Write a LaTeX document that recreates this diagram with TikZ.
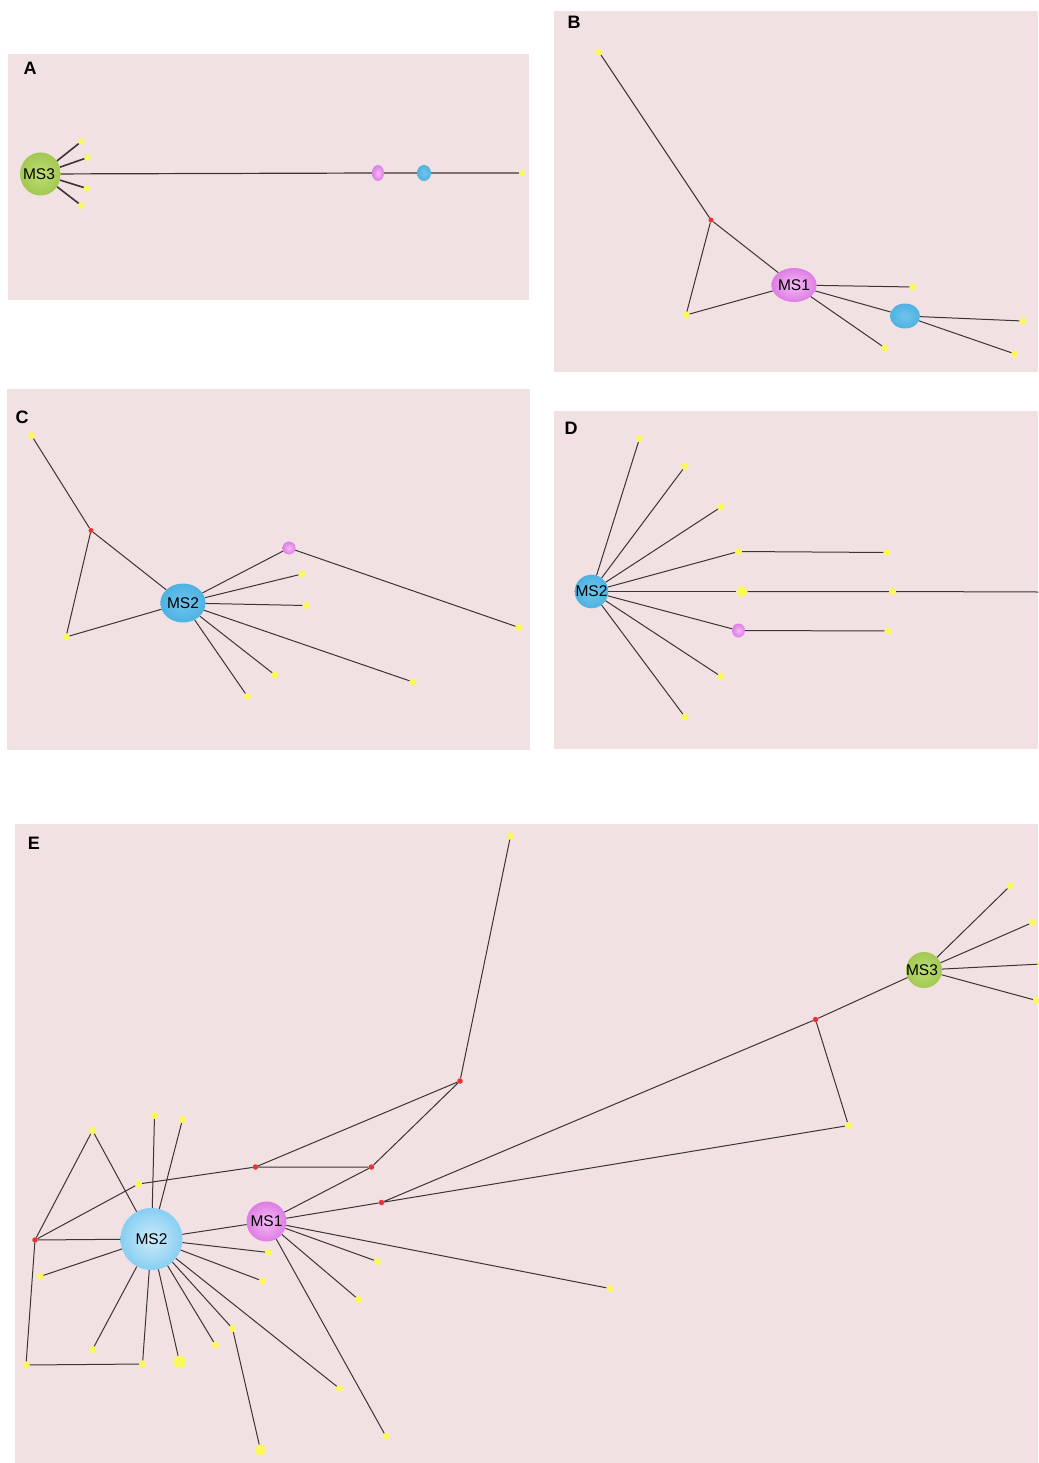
\documentclass[tikz,border=0pt]{standalone}
\usepackage{fontspec}
\setmainfont{Liberation Sans}
\usetikzlibrary{shapes.geometric}
\definecolor{panelbg}{RGB}{242,225,226}
\definecolor{leafyellow}{RGB}{250,248,90}
\definecolor{hubred}{RGB}{238,48,48}
\definecolor{linkgray}{RGB}{58,52,52}
\definecolor{msgreen}{RGB}{162,200,82}
\definecolor{msgreenlt}{RGB}{190,222,115}
\definecolor{mspink}{RGB}{222,125,228}
\definecolor{mspinklt}{RGB}{245,185,245}
\definecolor{msblue}{RGB}{78,178,226}
\definecolor{msbluelt}{RGB}{112,196,236}
\definecolor{msbluepale}{RGB}{205,234,250}
\definecolor{msbluee}{RGB}{135,207,242}
\begin{document}
\begin{tikzpicture}[x=1pt,y=-1pt,
  leaf/.style={circle,fill=leafyellow,inner sep=0pt,minimum size=7pt},
  bigleaf/.style={leaf,minimum size=11pt},
  hub/.style={circle,fill=hubred,inner sep=0pt,minimum size=5pt},
  ms/.style={ellipse,inner sep=0pt,font=\fontsize{15.5}{15.5}\selectfont},
  green/.style={ms,shading=radial,inner color=msgreenlt,outer color=msgreen},
  pink/.style={ms,shading=radial,inner color=mspinklt,outer color=mspink},
  blue/.style={ms,shading=radial,inner color=msbluelt,outer color=msblue},
  link/.style={draw=linkgray,line width=1pt},
  tag/.style={font=\bfseries\fontsize{18}{18}\selectfont}]

\useasboundingbox (0,0) rectangle (1038,1463);
\fill[white] (0,0) rectangle (1038,1463);
\fill[panelbg] (8,54) rectangle (529,300);
\fill[panelbg] (554,11) rectangle (1038,372);
\fill[panelbg] (7,389) rectangle (530,750);
\fill[panelbg] (554,411) rectangle (1038,749);
\fill[panelbg] (15,824) rectangle (1038,1463);

% A
\node[tag] at (30,68) {A};
\node[green,minimum width=34,minimum height=43] (a0) at (40.5,174) {\hspace*{-3pt}MS3};
\node[leaf,minimum size=6.5pt] (a1) at (81.4,141.5) {};
\node[leaf,minimum size=6.5pt] (a2) at (87.6,157.5) {};
\node[leaf,minimum size=6.5pt] (a3) at (87,188.5) {};
\node[leaf,minimum size=6.5pt] (a4) at (81.4,205.5) {};
\node[pink,minimum width=12,minimum height=16] (a5) at (378,173) {};
\node[blue,minimum width=14,minimum height=16] (a6) at (424,173) {};
\node[leaf,minimum size=6pt] (a7) at (522,173) {};
\foreach \n in {a1,a2,a3,a4}
  \draw[link,line width=1.6pt] (a0) -- (\n);
\draw[link,line width=1.2pt] (a0) -- (a5) -- (a6) -- (a7);

% B
\node[tag] at (574,22) {B};
\node[pink,minimum width=41,minimum height=34] (b0) at (794,285) {MS1};
\node[leaf] (b1) at (599,52) {};
\node[hub] (b2) at (711,220) {};
\node[leaf] (b3) at (686,315) {};
\node[leaf] (b4) at (913,287) {};
\node[blue,minimum width=30,minimum height=25] (b5) at (905,316) {};
\node[leaf] (b6) at (885,348) {};
\node[leaf] (b7) at (1023,321) {};
\node[leaf] (b8) at (1015,354) {};
\draw[link] (b1) -- (b2) -- (b3) -- (b0) -- (b2);
\foreach \n in {b4,b5,b6}
  \draw[link] (b0) -- (\n);
\draw[link] (b7) -- (b5) -- (b8);

% C
\node[tag] at (22,417) {C};
\node[blue,minimum width=45,minimum height=39] (c0) at (183,603) {MS2};
\node[leaf] (c1) at (31.5,435.5) {};
\node[hub] (c2) at (91,530.5) {};
\node[leaf] (c3) at (66,637) {};
\node[pink,minimum size=13] (c4) at (289,548) {};
\node[leaf] (c5) at (519,627.5) {};
\node[leaf] (c6) at (302,574) {};
\node[leaf] (c7) at (306,605.5) {};
\node[leaf] (c8) at (413,682) {};
\node[leaf] (c9) at (275,675) {};
\node[leaf] (c10) at (247.5,696.5) {};
\draw[link] (c1) -- (c2) -- (c3) -- (c0) -- (c2);
\draw[link] (c0) -- (c4) -- (c5);
\foreach \n in {c6,c7,c8,c9,c10}
  \draw[link] (c0) -- (\n);

% D
\node[tag] at (571,428) {D};
\node[blue,circle,minimum size=33] (d0) at (591.5,591.5) {MS2};
\node[leaf] (d1) at (639.5,438.5) {};
\node[leaf] (d2) at (685,466.5) {};
\node[leaf] (d3) at (721,507) {};
\node[leaf] (d4) at (738.5,551.5) {};
\node[leaf] (d5) at (887,552.5) {};
\node[bigleaf] (d6) at (742,591.5) {};
\node[leaf] (d7) at (892.5,591.5) {};
\node[pink,minimum width=13,minimum height=14] (d8) at (738.5,630.5) {};
\node[leaf] (d9) at (888,631) {};
\node[leaf] (d10) at (721,676.5) {};
\node[leaf] (d11) at (685,717) {};
\coordinate (d12) at (1038,592);
\foreach \n in {d1,d2,d3,d4,d6,d8,d10,d11}
  \draw[link] (d0) -- (\n);
\draw[link] (d4) -- (d5);
\draw[link] (d6) -- (d7) -- (d12);
\draw[link] (d8) -- (d9);

% E
\node[tag] at (34,843) {E};
\node[ms,circle,minimum size=62,shading=radial,inner color=msbluepale,outer color=msbluee] (e0) at (151.5,1239) {MS2};
\node[pink,circle,minimum size=40] (e1) at (266.5,1221.5) {MS1};
\node[green,circle,minimum size=36] (e2) at (924,970) {\hspace*{-4pt}MS3};
\begin{scope}[every node/.append style={minimum size=8.5pt}]
\node[hub,minimum size=5.5pt] (e3) at (35,1240) {};
\node[leaf] (e4) at (92.5,1130.5) {};
\node[leaf] (e5) at (154.5,1115.5) {};
\node[leaf] (e6) at (182.5,1119.5) {};
\node[leaf] (e7) at (138.5,1184) {};
\node[hub,minimum size=5.5pt] (e8) at (255.5,1167) {};
\node[hub,minimum size=5.5pt] (e9) at (371.5,1167) {};
\node[hub,minimum size=5.5pt] (e10) at (381.5,1202.5) {};
\node[hub,minimum size=5.5pt] (e11) at (460,1081) {};
\node[leaf] (e12) at (510.5,836) {};
\node[hub,minimum size=5.5pt] (e13) at (815.5,1019.5) {};
\node[leaf] (e14) at (848.5,1125.5) {};
\node[leaf] (e15) at (40,1276.5) {};
\node[leaf] (e16) at (26,1365) {};
\node[leaf] (e17) at (142.5,1364) {};
\node[leaf] (e18) at (92.5,1349.5) {};
\node[bigleaf,minimum size=12.5pt] (e19) at (179.5,1362) {};
\node[leaf] (e20) at (215.5,1345) {};
\node[leaf] (e21) at (232.5,1328.5) {};
\node[bigleaf] (e22) at (260.5,1450) {};
\node[leaf] (e23) at (339.5,1388.5) {};
\node[leaf] (e24) at (268.5,1252.5) {};
\node[leaf] (e25) at (262.5,1281) {};
\node[leaf] (e26) at (386,1436.5) {};
\node[leaf] (e27) at (358.5,1299.5) {};
\node[leaf] (e28) at (377.5,1261.5) {};
\node[leaf] (e29) at (610,1288.5) {};
\node[leaf] (e30) at (1010,886) {};
\node[leaf] (e31) at (1032.5,922.5) {};
\node[leaf] (e32) at (1041,964) {};
\node[leaf] (e33) at (1036.5,1000.5) {};
\end{scope}
\draw[link] (e3) -- (e4) -- (e0);
\draw[link] (e3) -- (e7) -- (e8) -- (e9) -- (e11) -- (e8);
\draw[link] (e11) -- (e12);
\draw[link] (e3) -- (e0);
\draw[link] (e3) -- (e16) -- (e17) -- (e0);
\foreach \n in {e1,e5,e6,e15,e18,e19,e20,e21,e23,e24,e25}
  \draw[link] (e0) -- (\n);
\draw[link] (e21) -- (e22);
\foreach \n in {e9,e10,e26,e27,e28,e29}
  \draw[link] (e1) -- (\n);
\draw[link] (e10) -- (e13) -- (e14) -- (e10);
\draw[link] (e13) -- (e2);
\foreach \n in {e30,e31,e32,e33}
  \draw[link] (e2) -- (\n);
\end{tikzpicture}
\end{document}
